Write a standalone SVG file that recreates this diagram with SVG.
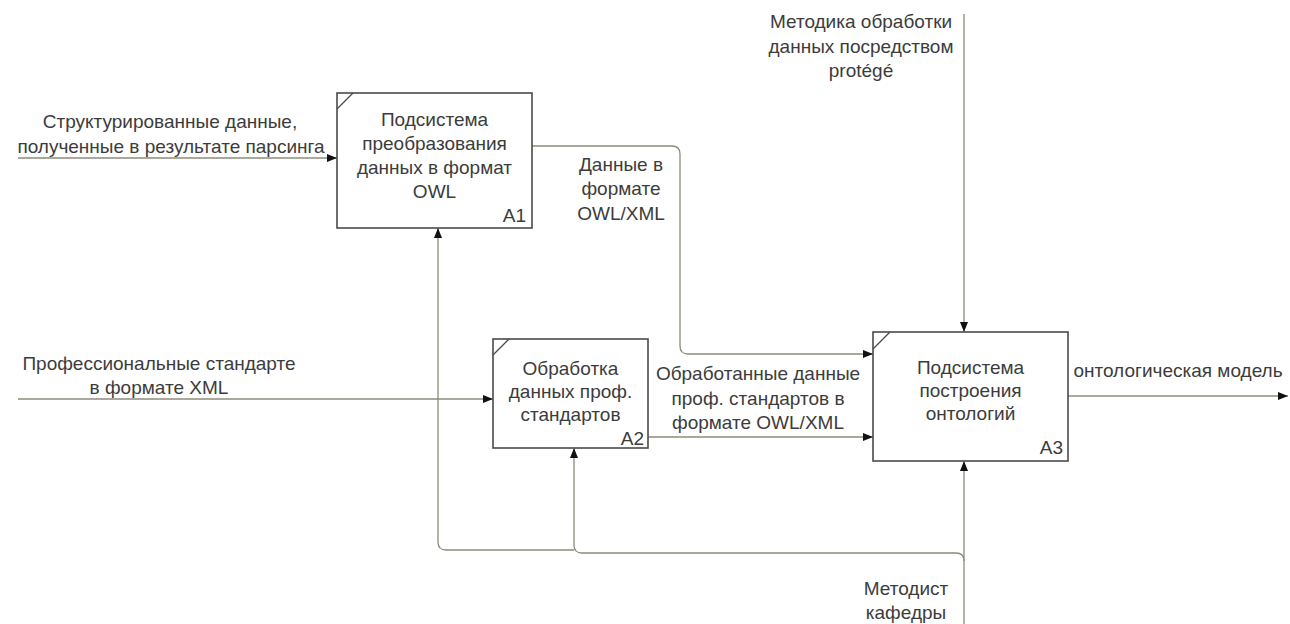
<svg xmlns="http://www.w3.org/2000/svg" width="1290" height="624" viewBox="0 0 1290 624">
  <style>
    .box { fill: #ffffff; stroke: #4a4a4a; stroke-width: 1.6; }
    .corner { stroke: #4a4a4a; stroke-width: 1.2; }
    .link { fill: none; stroke: #8c8c7a; stroke-width: 1.3; }
    .lbl { font-family: "Liberation Sans", Arial, sans-serif; font-size: 19px; fill: #3c3c3c; text-anchor: middle; }
    .num { font-family: "Liberation Sans", Arial, sans-serif; font-size: 19px; fill: #3c3c3c; text-anchor: end; }
  </style>
  <defs>
    <marker id="arrow" viewBox="0 0 10 8" refX="10" refY="4" markerWidth="10" markerHeight="8" markerUnits="userSpaceOnUse" orient="auto">
      <path d="M0,0 L10,4 L0,8 Z" fill="#111111"/>
    </marker>
  </defs>

  <rect width="1290" height="624" fill="#ffffff"/>

  <!-- connectors -->
  <g id="connectors">
    <!-- inputs -->
    <path class="link" d="M18,158 H337" marker-end="url(#arrow)"/>
    <path class="link" d="M18,399 H493" marker-end="url(#arrow)"/>
    <!-- A1 -> A3 -->
    <path class="link" d="M532,146 H672 Q680,146 680,154 V346 Q680,354 688,354 H873" marker-end="url(#arrow)"/>
    <!-- A2 -> A3 -->
    <path class="link" d="M648,437 H873" marker-end="url(#arrow)"/>
    <!-- A3 output -->
    <path class="link" d="M1068,396 H1288" marker-end="url(#arrow)"/>
    <!-- control -->
    <path class="link" d="M964,14 V332" marker-end="url(#arrow)"/>
    <!-- mechanism -->
    <path class="link" d="M964,624 V461" marker-end="url(#arrow)"/>
    <path class="link" d="M964,561 Q964,553 956,553 H582 Q574,553 574,545 V448" marker-end="url(#arrow)"/>
    <path class="link" d="M574,550 H446 Q438,550 438,542 V228" marker-end="url(#arrow)"/>
  </g>

  <!-- A1 -->
  <g id="node-a1">
    <rect class="box" x="337" y="93" width="195" height="135"/>
    <line class="corner" x1="337" y1="109" x2="353" y2="93"/>
    <text class="lbl" x="434.5" y="126">Подсистема</text>
    <text class="lbl" x="434.5" y="150">преобразования</text>
    <text class="lbl" x="434.5" y="174">данных в формат</text>
    <text class="lbl" x="434.5" y="198">OWL</text>
    <text class="num" x="526" y="222">A1</text>
  </g>

  <!-- A2 -->
  <g id="node-a2">
    <rect class="box" x="493" y="339" width="155" height="109"/>
    <line class="corner" x1="493" y1="355" x2="509" y2="339"/>
    <text class="lbl" x="570.5" y="375">Обработка</text>
    <text class="lbl" x="570.5" y="398">данных проф.</text>
    <text class="lbl" x="570.5" y="421">стандартов</text>
    <text class="num" x="644" y="445">A2</text>
  </g>

  <!-- A3 -->
  <g id="node-a3">
    <rect class="box" x="873" y="332" width="195" height="129"/>
    <line class="corner" x1="873" y1="349" x2="890" y2="332"/>
    <text class="lbl" x="970.5" y="374">Подсистема</text>
    <text class="lbl" x="970.5" y="397">построения</text>
    <text class="lbl" x="970.5" y="420">онтологий</text>
    <text class="num" x="1063" y="454">A3</text>
  </g>

  <!-- arrow labels -->
  <g id="labels">
    <text class="lbl" x="170" y="128">Структурированные данные,</text>
    <text class="lbl" x="171" y="153">полученные в результате парсинга</text>
    <text class="lbl" x="159" y="370">Профессиональные стандарте</text>
    <text class="lbl" x="159" y="394">в формате XML</text>
    <text class="lbl" x="621" y="171">Данные в</text>
    <text class="lbl" x="621" y="195">формате</text>
    <text class="lbl" x="621" y="220">OWL/XML</text>
    <text class="lbl" x="758" y="380">Обработанные данные</text>
    <text class="lbl" x="758" y="405">проф. стандартов в</text>
    <text class="lbl" x="758" y="429">формате OWL/XML</text>
    <text class="lbl" x="1178" y="377">онтологическая модель</text>
    <text class="lbl" x="861" y="28">Методика обработки</text>
    <text class="lbl" x="861" y="53">данных посредством</text>
    <text class="lbl" x="861" y="77">protégé</text>
    <text class="lbl" x="906" y="595">Методист</text>
    <text class="lbl" x="906" y="619">кафедры</text>
  </g>
</svg>
